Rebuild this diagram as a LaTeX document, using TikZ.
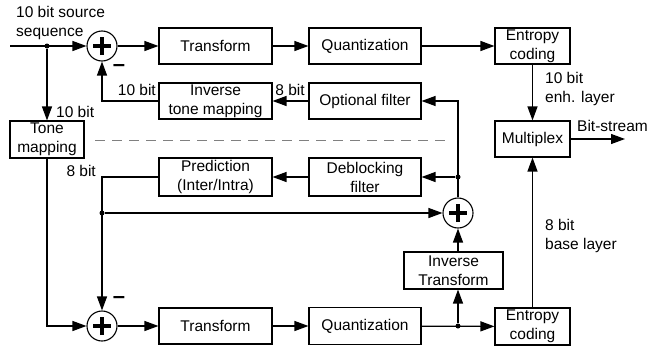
\documentclass[tikz,border=0pt]{standalone}
\usepackage{fontspec}
\setmainfont{Liberation Sans}
\usetikzlibrary{arrows.meta}
\begin{document}
\begin{tikzpicture}[x=1pt,y=-1pt,
  every node/.style={font=\fontsize{15.5pt}{19pt}\selectfont},
  blk/.style={draw, line width=1.1pt, inner sep=0pt, align=center},
  sum/.style={circle, draw, line width=1.1pt, minimum size=30pt, inner sep=0pt,
    path picture={\draw[line width=3.6pt] (path picture bounding box.center) +(-9pt,0) -- +(9pt,0)
      (path picture bounding box.center) +(0,-9pt) -- +(0,9pt);}},
  conn/.style={line width=1.2pt},
  arr/.style={conn, -{Triangle[length=14pt,width=10pt]}},
  dot/.style={circle, fill, inner sep=0pt, minimum size=5pt},
  lbl/.style={inner sep=0pt, align=left},
  minus/.style={inner sep=0pt, font=\fontsize{22pt}{22pt}\selectfont\bfseries}]
\useasboundingbox (0,0) rectangle (647,351);
% boxes
\node[blk, minimum width=113pt, minimum height=36pt] (T1) at (215.5,46) {Transform};
\node[blk, minimum width=112pt, minimum height=36pt] (Q1) at (365,46) {Quantization};
\node[blk, minimum width=75pt, minimum height=36pt] (E1) at (532.5,46) {Entropy\\coding};
\node[blk, minimum width=113pt, minimum height=36pt] (ITM) at (215.5,101) {Inverse\\tone mapping};
\node[blk, minimum width=112pt, minimum height=36pt] (OF) at (365,101) {Optional filter};
\node[blk, minimum width=74pt, minimum height=37pt] (TM) at (47,139.5) {Tone\\mapping};
\node[blk, minimum width=113pt, minimum height=38pt] (P) at (215.5,177) {Prediction\\(Inter/Intra)};
\node[blk, minimum width=112pt, minimum height=38pt] (DF) at (365,177) {Deblocking\\filter};
\node[blk, minimum width=75pt, minimum height=36pt] (MUX) at (532.5,139) {Multiplex};
\node[blk, minimum width=99pt, minimum height=37pt] (IT) at (453.5,270.5) {Inverse\\Transform};
\node[blk, minimum width=113pt, minimum height=36pt] (T2) at (215.5,326) {Transform};
\node[blk, minimum width=112pt, minimum height=37pt] (Q2) at (365,326) {Quantization};
\node[blk, minimum width=75pt, minimum height=37pt] (E2) at (532.5,326.5) {Entropy\\coding};
% sums
\node[sum] (S1) at (102,46) {};
\node[sum] (S2) at (102,326) {};
\node[sum] (S3) at (458,213) {};
% junctions
\node[dot] (J1) at (47,46) {};
\node[dot] (J2) at (102,213) {};
\node[dot] (J3) at (458,177) {};
\node[dot] (J4) at (458,326) {};
\coordinate (src) at (10,46);
\coordinate (out) at (625,139);
% dashed separator
\coordinate (d1) at (95,140);
\coordinate (d2) at (448,140);
\draw[gray, line width=1pt, dash pattern=on 10pt off 7pt] (d1) -- (d2);
% connectors
\draw[arr] (src) -- (S1);
\draw[arr] (S1) -- (T1);
\draw[arr] (T1) -- (Q1);
\draw[arr] (Q1) -- (E1);
\draw[arr] (E1) -- (MUX);
\draw[arr] (MUX) -- (out);
\draw[arr] (E2) -- (MUX);
\draw[arr] (J1) -- (TM);
\draw[arr] (TM.south) |- (S2);
\draw[arr] (P.west) -| (S2.north);
\draw[arr] (J2) -- (S3);
\draw[arr] (S2) -- (T2);
\draw[arr] (T2) -- (Q2);
\draw[arr] (Q2) -- (E2);
\draw[arr] (J4) -- (J4 |- IT.south);
\draw[arr] (S3 |- IT.north) -- (S3.south);
\draw[arr] (S3.north) |- (OF.east);
\draw[arr] (J3) -- (DF);
\draw[arr] (DF) -- (P);
\draw[arr] (OF) -- (ITM);
\draw[arr] (ITM.west) -| (S1.south);
% labels
\node[lbl, anchor=west] (lsrc) at (16,22.5) {10 bit source\\sequence};
\node[minus] (m1) at (119,68) {--};
\node[minus] (m2) at (119,300) {--};
\node[lbl, anchor=east] (l10a) at (156,90) {10 bit};
\node[lbl, anchor=west] (l10b) at (56,112) {10 bit};
\node[lbl, anchor=east] (l8a) at (96,171) {8 bit};
\node[lbl] (l8b) at (290,90) {8 bit};
\node[lbl, anchor=west] (lenh) at (545,88.5) {10 bit\\enh. layer};
\node[lbl, anchor=west] (lbs) at (577,126) {Bit-stream};
\node[lbl, anchor=west] (lbase) at (545,235.5) {8 bit\\base layer};
\end{tikzpicture}
\end{document}
